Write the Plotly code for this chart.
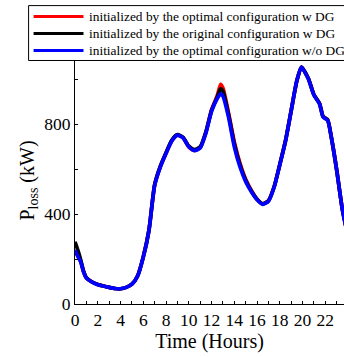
import plotly.graph_objects as go

# ---- data ----
hours = [0, 0.25, 0.5, 0.75, 1, 1.5, 2, 2.5, 3, 3.5, 4, 4.5, 5, 5.5, 6, 6.5, 7, 7.5, 8, 8.5,
         9, 9.5, 10, 10.5, 11, 11.5, 12, 12.5, 12.8, 13, 13.5, 14, 14.5, 15, 15.5, 16, 16.5,
         17, 17.5, 18, 18.5, 19, 19.5, 19.9, 20.5, 21, 21.5, 21.8, 22.2, 22.5, 23, 23.5, 24]

loss_opt_wdg = [240, 214, 190, 145, 116, 98, 87, 80, 74, 69, 68, 74, 88, 125, 210, 329, 530, 612,
                672, 727, 752, 740, 700, 684, 697, 765, 865, 928, 978, 962, 850, 722, 627, 556,
                506, 467, 446, 460, 522, 622, 727, 862, 995, 1055, 1005, 932, 892, 835, 820, 750,
                596, 420, 300]

loss_orig_wdg = [277, 240, 197, 147, 117, 98, 87, 80, 74, 69, 68, 74, 88, 125, 210, 329, 532, 614,
                 674, 729, 754, 742, 703, 688, 700, 766, 862, 922, 958, 948, 842, 714, 620, 551,
                 503, 466, 446, 460, 522, 622, 727, 862, 995, 1055, 1005, 932, 892, 835, 820, 750,
                 596, 420, 300]

loss_opt_wodg = [240, 212, 188, 143, 115, 97, 86, 80, 74, 69, 68, 74, 88, 124, 208, 327, 528, 610,
                 670, 725, 752, 740, 700, 683, 695, 760, 858, 915, 936, 926, 830, 700, 610, 545,
                 500, 464, 444, 458, 520, 620, 725, 860, 995, 1055, 1003, 930, 890, 833, 818, 750,
                 596, 420, 300]

series_names = ["initialized by the optimal configuration w DG",
                "initialized by the original configuration w DG",
                "initialized by the optimal configuration w/o DG"]
series_colors = ["#ff0000", "#000000", "#0000ff"]
series_values = [loss_opt_wdg, loss_orig_wdg, loss_opt_wodg]

x_ticks = list(range(0, 24, 2))
y_ticks = [0, 400, 800]

W, H = 344, 357
FONT = "Liberation Serif"

fig = go.Figure()
for name, col, vals in zip(series_names, series_colors, series_values):
    fig.add_trace(go.Scatter(x=hours, y=vals, mode="lines", name=name,
                             line=dict(color=col, width=3.7, shape="spline", smoothing=0.6),
                             showlegend=False))

ml, mr, mt, mb = 74.5, 0, 56.5, 53
fig.update_layout(
    width=W, height=H,
    margin=dict(l=ml, r=mr, t=mt, b=mb, pad=0),
    paper_bgcolor="white", plot_bgcolor="white",
    font=dict(family=FONT, color="black"),
    xaxis=dict(range=[0, 23.64], tickvals=x_ticks, ticks="inside", ticklen=3, tickcolor="black",
               showline=True, linecolor="black", linewidth=1, showgrid=False, zeroline=False,
               tickfont=dict(size=17.5, family=FONT),
               minor=dict(dtick=1, ticks="inside", ticklen=3, tickcolor="black"),
               title=dict(text="Time (Hours)", font=dict(size=20, family=FONT), standoff=2)),
    yaxis=dict(range=[0, 1100], tickvals=y_ticks, ticks="inside", ticklen=3, tickcolor="black",
               showline=True, linecolor="black", linewidth=1, showgrid=False, zeroline=False,
               tickfont=dict(size=17.5, family=FONT),
               minor=dict(tickvals=[200, 600, 1000], ticks="inside", ticklen=3, tickcolor="black"),
               title=dict(text="P<sub>loss</sub> (kW)", font=dict(size=20, family=FONT), standoff=4)),
)

# ---- legend box drawn manually (extends past the right edge as in the reference) ----
PW = W - ml - mr
PH = H - mt - mb

fig.add_shape(type="rect", xref="paper", yref="paper",
              x0=(28 - ml) / PW, x1=(352 - ml) / PW,
              y0=(H - mb - 60) / PH, y1=(H - mb - 5) / PH,
              line=dict(color="black", width=1), fillcolor="white", layer="above")

row_y = [16, 33, 50]
for name, col, ry in zip(series_names, series_colors, row_y):
    yp = (H - mb - ry) / PH
    fig.add_shape(type="line", xref="paper", yref="paper",
                  x0=(33 - ml) / PW, x1=(83 - ml) / PW, y0=yp, y1=yp,
                  line=dict(color=col, width=3), layer="above")
    fig.add_annotation(xref="paper", yref="paper", x=(87 - ml) / PW, y=yp,
                       text=name, showarrow=False, xanchor="left", yanchor="middle",
                       font=dict(size=13.4, family=FONT, color="black"))

fig.write_html("out.html")
